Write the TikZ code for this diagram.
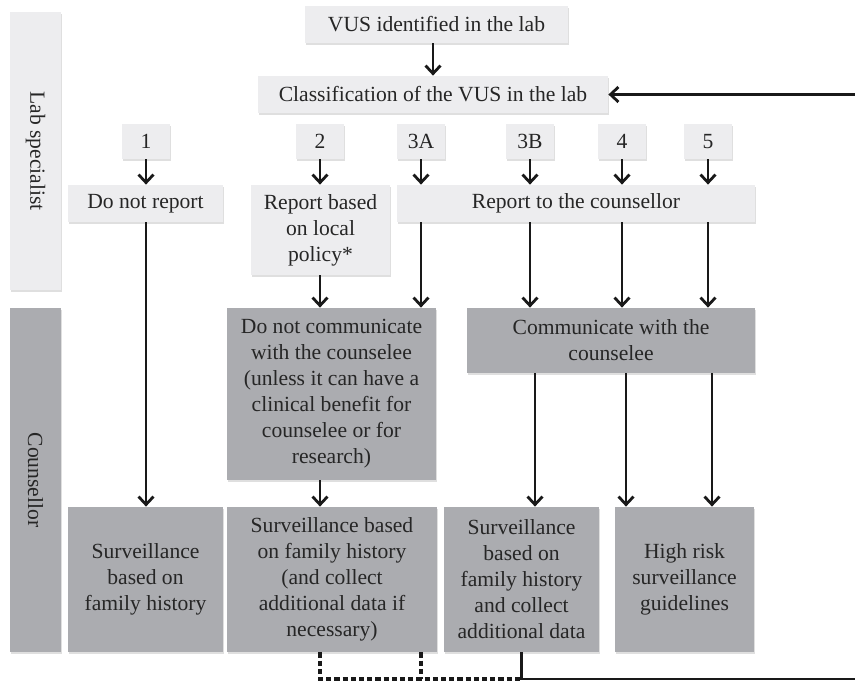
\documentclass[tikz,border=0pt]{standalone}
\usepackage{fontspec}
\setmainfont{Liberation Serif}
\usetikzlibrary{arrows.meta,shadows}
\definecolor{labgray}{HTML}{EDEDEF}
\definecolor{cnsgray}{HTML}{ABACB0}

\begin{document}
\begin{tikzpicture}[x=0.5pt, y=-0.5pt,
  every node/.style={inner sep=0pt, align=center, text=black!85, font=\fontsize{10.8}{13}\selectfont},
  lab/.style={fill=labgray, drop shadow={shadow xshift=0.6pt, shadow yshift=-0.8pt, opacity=0.25}},
  cns/.style={fill=cnsgray, drop shadow={shadow xshift=0.6pt, shadow yshift=-0.8pt, opacity=0.25}},
  num/.style={lab, minimum width=24pt, minimum height=17.5pt},
  arr/.style={line width=1.4pt, black!90, -{Straight Barb[length=4pt,width=7.5pt]}},
  fb/.style={line width=1.6pt, black!90, dash pattern=on 2.6pt off 1.5pt}]
  \useasboundingbox (0,0) rectangle (855,682);
  % side bars
  \node[lab, minimum width=25.5pt, minimum height=139pt] (labbar) at (35.5,151) {\rotatebox{-90}{Lab specialist}};
  \node[cns, minimum width=25.5pt, minimum height=172pt] (cnsbar) at (35.5,480) {\rotatebox{-90}{Counsellor}};
  % lab specialist
  \node[lab, minimum width=131.5pt, minimum height=18.5pt] (vus) at (436.5,24.5) {VUS identified in the lab};
  \node[lab, minimum width=175pt, minimum height=18.5pt] (class) at (433,94.5) {Classification of the VUS in the lab};
  \node[num] (n1)  at (146,141.5) {1};
  \node[num] (n2)  at (320,141.5) {2};
  \node[num] (n3a) at (421,141.5) {3A};
  \node[num] (n3b) at (530,141.5) {3B};
  \node[num] (n4)  at (622,141.5) {4};
  \node[num] (n5)  at (708,141.5) {5};
  \node[lab, minimum width=77.5pt, minimum height=18.5pt] (noreport) at (145.5,203.5) {Do not report};
  \node[lab, minimum width=69.5pt, minimum height=45pt] (local) at (320.5,230) {Report based\\on local\\policy*};
  \node[lab, minimum width=179pt, minimum height=18.5pt] (toc) at (576,203.5) {Report to the counsellor};
  % counsellor
  \node[cns, minimum width=104.5pt, minimum height=86pt] (nocomm) at (331.5,394) {Do not communicate\\with the counselee\\(unless it can have a\\clinical benefit for\\counselee or for\\research)};
  \node[cns, minimum width=144pt, minimum height=32.5pt] (comm) at (611,340.5) {Communicate with the\\counselee};
  \node[cns, minimum width=77.5pt, minimum height=72.5pt] (surv1) at (145.5,579.5) {Surveillance\\based on\\family history};
  \node[cns, minimum width=105pt, minimum height=72.5pt] (surv2) at (332,579.5) {Surveillance based\\on family history\\(and collect\\additional data if\\necessary)};
  \node[cns, minimum width=77.5pt, minimum height=72.5pt] (surv3) at (521.5,579.5) {Surveillance\\based on\\family history\\and collect\\additional data};
  \node[cns, minimum width=69.5pt, minimum height=72.5pt] (high) at (684.5,579.5) {High risk\\surveillance\\guidelines};
  \coordinate (fbend) at (862,679);
  \coordinate (fbtop) at (862,94.5);
  % arrows
  \draw[arr] (vus.south -| class) -- (class.north);
  \draw[arr] (n1.south) -- (noreport.north -| n1);
  \draw[arr] (n2.south) -- (local.north -| n2);
  \draw[arr] (n3a.south) -- (toc.north -| n3a);
  \draw[arr] (n3b.south) -- (toc.north -| n3b);
  \draw[arr] (n4.south) -- (toc.north -| n4);
  \draw[arr] (n5.south) -- (toc.north -| n5);
  \draw[arr] (noreport.south -| n1) -- (surv1.north -| n1);
  \draw[arr] (local.south -| n2) -- (nocomm.north -| n2);
  \draw[arr] (toc.south -| n3a) -- (nocomm.north -| n3a);
  \draw[arr] (toc.south -| n3b) -- (comm.north -| n3b);
  \draw[arr] (toc.south -| n4) -- (comm.north -| n4);
  \draw[arr] (toc.south -| n5) -- (comm.north -| n5);
  \draw[arr] (nocomm.south -| n2) -- (surv2.north -| n2);
  \draw[arr] ([xshift=2.5pt]comm.south -| n3b) -- ([xshift=2.5pt]surv3.north -| n3b);
  \draw[arr] ([xshift=2pt]comm.south -| n4) -- ([xshift=2pt]high.north -| n4);
  \draw[arr] ([xshift=2pt]comm.south -| n5) -- ([xshift=2pt]high.north -| n5);
  % back to classification
  \draw[fb] (surv2.south -| n2) -- (n2 |- fbend) -- (surv3.south |- fbend);
  \draw[fb] (surv2.south -| n3a) -- (n3a |- fbend);
  \draw[arr] (surv3.south) -- (surv3.south |- fbend) -- (fbend) -- (fbtop) -- (class.east);
\end{tikzpicture}
\end{document}
